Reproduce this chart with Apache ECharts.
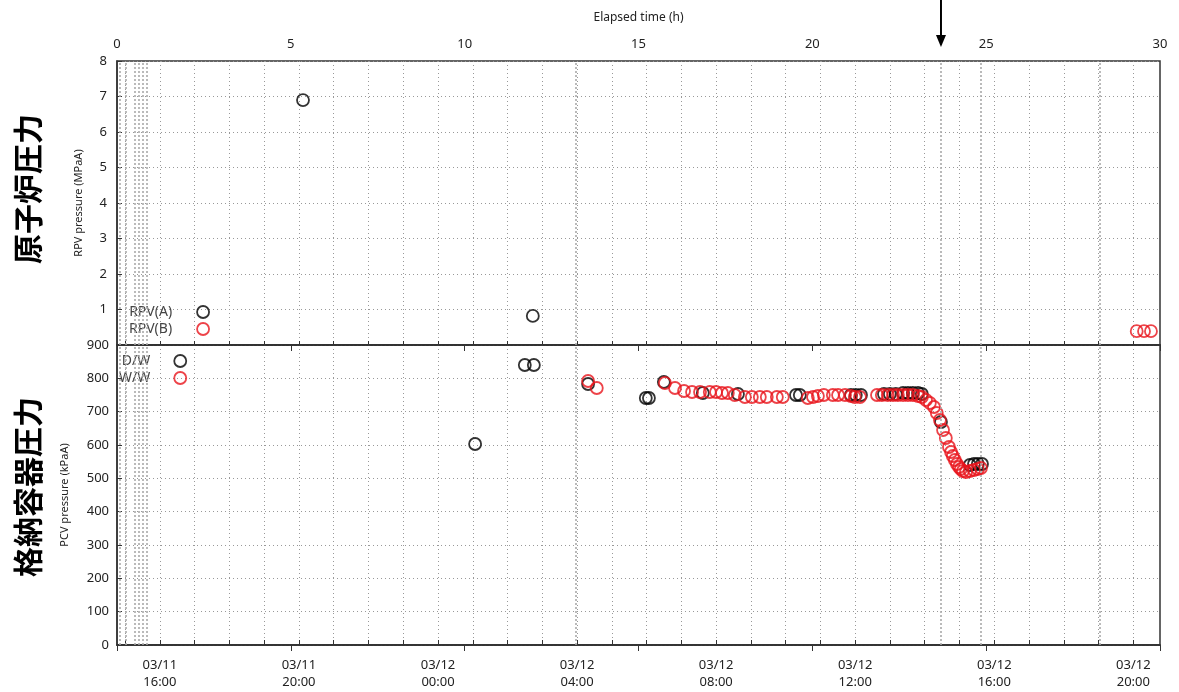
<!DOCTYPE html>
<html><head><meta charset="utf-8">
<script src="https://cdn.jsdelivr.net/npm/echarts@6/dist/echarts.min.js"></script>
<style>html,body{margin:0;padding:0;background:#fff}#c{width:1179px;height:692px}</style>
</head><body><div id="c"></div>
<script>
// elapsed time origin: 03/11 14:46
const START_CLOCK_H = 14 + 46 / 60;

// RPV pressure (MPaA): [elapsed h, value]
const RPV_A = [[5.35, 6.90], [11.96, 0.82]];
const RPV_B = [[29.33, 0.39], [29.54, 0.39], [29.74, 0.39]];

// PCV pressure (kPaA): [elapsed h, value]
const DW = [
  [10.30, 603], [11.73, 840], [11.99, 840], [13.55, 783], [15.21, 741], [15.30, 741],
  [15.73, 789], [16.85, 756], [17.86, 753], [19.53, 750], [19.64, 750], [21.11, 750],
  [21.25, 750], [21.40, 750], [22.06, 753], [22.23, 753], [22.40, 753], [22.61, 756],
  [22.75, 756], [22.89, 756], [23.04, 756], [23.15, 753], [23.70, 669], [24.53, 540],
  [24.65, 543], [24.76, 543], [24.88, 543]
];
const WW = [
  [13.55, 792], [13.80, 771], [15.76, 786], [16.05, 771], [16.31, 762], [16.54, 759],
  [16.77, 759], [17.05, 759], [17.23, 759], [17.40, 756], [17.57, 756], [17.77, 750],
  [18.06, 744], [18.26, 744], [18.49, 744], [18.69, 744], [18.98, 744], [19.15, 744],
  [19.87, 741], [20.02, 744], [20.16, 747], [20.33, 750], [20.59, 750], [20.74, 750],
  [20.94, 750], [21.11, 747], [21.22, 744], [21.37, 744], [21.86, 750], [22.00, 750],
  [22.17, 750], [22.32, 750], [22.46, 750], [22.61, 750], [22.75, 750], [22.89, 750],
  [23.04, 747], [23.15, 744], [23.27, 735], [23.38, 726], [23.50, 714], [23.58, 696],
  [23.67, 675], [23.76, 645], [23.84, 621], [23.93, 594], [23.99, 579], [24.04, 567],
  [24.10, 555], [24.16, 543], [24.22, 534], [24.27, 528], [24.33, 522], [24.42, 519],
  [24.53, 522], [24.65, 525], [24.76, 528], [24.85, 531]
];

// event markers (elapsed h)
const EVENT_LINES = [0.09, 0.26, 0.50, 0.62, 0.74, 0.86, 13.2, 23.7, 24.85, 28.27];
const ARROW_AT = 23.7;

// axes
const ELAPSED_MAX = 30;
const CLOCK_TICKS = [0.2333, 1.2333, 2.2333, 3.2333, 4.2333, 5.2333, 6.2333, 7.2333, 8.2333, 9.2333,
  10.2333, 11.2333, 12.2333, 13.2333, 14.2333, 15.2333, 16.2333, 17.2333, 18.2333, 19.2333,
  20.2333, 21.2333, 22.2333, 23.2333, 24.2333, 25.2333, 26.2333, 27.2333, 28.2333, 29.2333];
const CLOCK_LABEL_AT = [1.2333, 5.2333, 9.2333, 13.2333, 17.2333, 21.2333, 25.2333, 29.2333];
const CLOCK_LABELS = ['03/11\n16:00', '03/11\n20:00', '03/12\n00:00', '03/12\n04:00',
  '03/12\n08:00', '03/12\n12:00', '03/12\n16:00', '03/12\n20:00'];

const FONT = '"Noto Sans", "Open Sans", sans-serif';
const AXIS_COLOR = '#333';
const GRID_LINE = { show: true, lineStyle: { type: [1, 3], color: '#999', width: 1 } };

function clockLabel(v) {
  let best = 0, d = 1e9;
  CLOCK_LABEL_AT.forEach((a, i) => { const dd = Math.abs(a - v); if (dd < d) { d = dd; best = i; } });
  return CLOCK_LABELS[best];
}

const chart = echarts.init(document.getElementById('c'), null, { renderer: 'canvas' });

const axisLine = { show: true, lineStyle: { color: AXIS_COLOR, width: 1.5 } };
const eventMark = {
  silent: true, symbol: ['none', 'none'], label: { show: false },
  lineStyle: { type: [2, 2], color: '#aaa', width: 1.6 },
  emphasis: { disabled: true },
  data: EVENT_LINES.map(v => ({ xAxis: v }))
};
function sty(c) { return { color: 'transparent', borderColor: c, borderWidth: 1.8 }; }

chart.setOption({
  animation: false,
  textStyle: { fontFamily: FONT },
  grid: [
    { left: 117, right: 19, top: 61, height: 284, show: true, borderColor: AXIS_COLOR, borderWidth: 1.5, outerBoundsMode: 'none', containLabel: false },
    { left: 117, right: 19, top: 345, height: 300, show: true, borderColor: AXIS_COLOR, borderWidth: 1.5, outerBoundsMode: 'none', containLabel: false }
  ],
  xAxis: [
    { gridIndex: 0, type: 'value', position: 'top', min: 0, max: ELAPSED_MAX, interval: 5,
      name: 'Elapsed time (h)', nameLocation: 'middle', nameGap: 37,
      nameTextStyle: { fontSize: 12, color: '#222' },
      axisLine, axisTick: { inside: true, length: 6, lineStyle: { color: AXIS_COLOR } },
      axisLabel: { fontSize: 13, color: '#222', margin: 10 }, splitLine: { show: false } },
    { gridIndex: 0, type: 'value', position: 'bottom', min: 0, max: ELAPSED_MAX,
      axisLine, axisTick: { inside: true, length: 4, customValues: CLOCK_TICKS, lineStyle: { color: AXIS_COLOR } },
      axisLabel: { show: false }, splitLine: GRID_LINE },
    { gridIndex: 1, type: 'value', position: 'top', min: 0, max: ELAPSED_MAX, interval: 5,
      axisLine, axisTick: { inside: true, length: 6, lineStyle: { color: AXIS_COLOR } },
      axisLabel: { show: false }, splitLine: { show: false } },
    { gridIndex: 1, type: 'value', position: 'bottom', min: 0, max: ELAPSED_MAX,
      axisLine, axisTick: { inside: true, length: 5, customValues: CLOCK_TICKS, lineStyle: { color: AXIS_COLOR } },
      axisLabel: { customValues: CLOCK_LABEL_AT, formatter: clockLabel, fontSize: 13, color: '#222', lineHeight: 17, margin: 12 },
      splitLine: GRID_LINE }
  ],
  yAxis: [
    { gridIndex: 0, type: 'value', min: 0, max: 8, interval: 1,
      name: 'RPV pressure (MPaA)', nameLocation: 'middle', nameGap: 33,
      nameTextStyle: { fontSize: 11, color: '#222' },
      axisLine, axisTick: { inside: true, length: 5, lineStyle: { color: AXIS_COLOR } },
      axisLabel: { fontSize: 13, color: '#222', formatter: v => v === 0 ? '' : String(v), margin: 10 },
      splitLine: GRID_LINE },
    { gridIndex: 1, type: 'value', min: 0, max: 900, interval: 100,
      name: 'PCV pressure (kPaA)', nameLocation: 'middle', nameGap: 47,
      nameTextStyle: { fontSize: 11, color: '#222' },
      axisLine, axisTick: { inside: true, length: 5, lineStyle: { color: AXIS_COLOR } },
      axisLabel: { fontSize: 13, color: '#222', margin: 8 },
      splitLine: GRID_LINE }
  ],
  legend: [
    { data: [{ name: 'RPV(A)', itemStyle: sty('#000') }, { name: 'RPV(B)', itemStyle: sty('#e8141c') }],
      left: 129, top: 305, padding: 0, orient: 'vertical', align: 'right', itemWidth: 52, itemHeight: 12, itemGap: 3,
      textStyle: { fontSize: 14, color: '#444', fontFamily: FONT }, selectedMode: false },
    { data: [{ name: 'D/W', itemStyle: sty('#000') }, { name: 'W/W', itemStyle: sty('#e8141c') }],
      left: 119, top: 354, padding: 0, orient: 'vertical', align: 'right', itemWidth: 50, itemHeight: 12, itemGap: 3,
      textStyle: { fontSize: 14, color: '#444', fontFamily: FONT, width: 34, align: 'right' }, selectedMode: false }
  ],
  series: [
    { name: 'RPV(A)', type: 'scatter', xAxisIndex: 0, yAxisIndex: 0, data: RPV_A,
      symbol: 'circle', symbolSize: 12, itemStyle: sty('#000'), emphasis: { disabled: true }, markLine: eventMark, z: 3 },
    { name: 'RPV(B)', type: 'scatter', xAxisIndex: 0, yAxisIndex: 0, data: RPV_B,
      symbol: 'circle', symbolSize: 12, itemStyle: sty('#e8141c'), emphasis: { disabled: true }, z: 3 },
    { name: 'D/W', type: 'scatter', xAxisIndex: 3, yAxisIndex: 1, data: DW,
      symbol: 'circle', symbolSize: 12, itemStyle: sty('#000'), emphasis: { disabled: true }, markLine: eventMark, z: 3 },
    { name: 'W/W', type: 'scatter', xAxisIndex: 3, yAxisIndex: 1, data: WW,
      symbol: 'circle', symbolSize: 12, itemStyle: sty('#e8141c'), emphasis: { disabled: true }, z: 4 }
  ]
});

const ax = chart.convertToPixel({ xAxisIndex: 0 }, ARROW_AT);
chart.setOption({
  graphic: [
    { type: 'line', shape: { x1: ax, y1: 0, x2: ax, y2: 38 }, style: { stroke: '#000', lineWidth: 2 } },
    { type: 'polygon', shape: { points: [[ax - 5, 35], [ax + 5, 35], [ax, 47]] }, style: { fill: '#000' } },
    { type: 'text', x: 28, y: 189, rotation: Math.PI / 2,
      style: { text: '原子炉圧力', font: 'bold 30px "Noto Sans CJK JP"', align: 'center', verticalAlign: 'middle', fill: '#000' } },
    { type: 'text', x: 28, y: 487, rotation: Math.PI / 2,
      style: { text: '格納容器圧力', font: 'bold 30px "Noto Sans CJK JP"', align: 'center', verticalAlign: 'middle', fill: '#000' } }
  ]
});
</script>
</body></html>
